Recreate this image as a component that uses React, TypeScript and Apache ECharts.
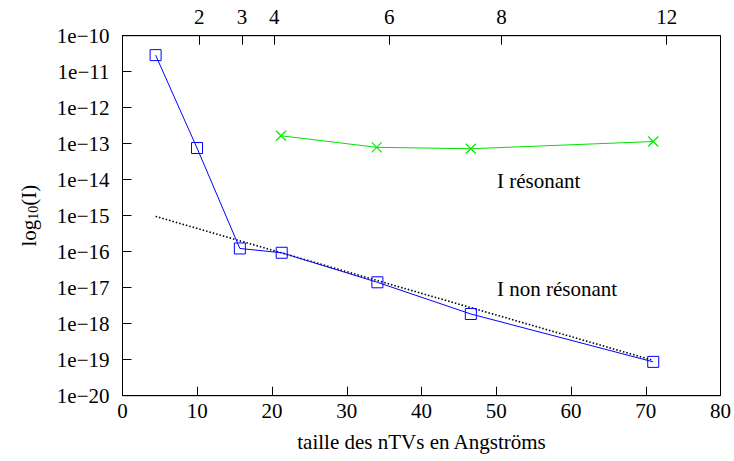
import React, { useEffect, useRef } from "react";
import * as echarts from "echarts";

// Data (x in Angströms, y as log10(I))
const nonResX = [4.43, 9.97, 15.7, 21.3, 34.1, 46.6, 71.0];
const nonResLogI = [-10.54, -13.12, -15.91, -16.03, -16.85, -17.73, -19.06];
const resX = [21.2, 34.0, 46.6, 71.0];
const resLogI = [-12.78, -13.1, -13.14, -12.94];
const fitX = [4.43, 71.0];
const fitLogI = [-15.02, -19.02];

// Top axis: number of rings n at corresponding sizes
const topTickPos = [10.27, 16.0, 20.3, 35.7, 50.7, 72.8];
const topTickLabels = ["2", "3", "4", "6", "8", "12"];

const FONT = "Liberation Serif";
const FS = 21;

export default function App() {
  const ref = useRef<HTMLDivElement>(null);
  useEffect(() => {
    if (!ref.current) return;
    const chart = echarts.init(ref.current, null, { renderer: "svg" });
    const crossPath = "path://M0,0L10,10M10,0L0,10";
    chart.setOption({
      animation: false,
      backgroundColor: "#fff",
      textStyle: { fontFamily: FONT, color: "#000" },
      grid: {
        left: 122.5,
        right: 11.5,
        top: 35.7,
        bottom: 65.3,
        show: true,
        borderColor: "#000",
        borderWidth: 1,
        backgroundColor: "transparent",
      },
      xAxis: [
        {
          type: "value",
          position: "bottom",
          min: 0,
          max: 80,
          interval: 10,
          name: "taille des nTVs en Angströms",
          nameLocation: "middle",
          nameGap: 36,
          nameTextStyle: { fontFamily: FONT, fontSize: FS, color: "#000" },
          axisLine: { show: true, lineStyle: { color: "#000", width: 1 } },
          axisTick: { show: true, inside: true, length: 9, lineStyle: { color: "#000" } },
          axisLabel: { fontFamily: FONT, fontSize: FS, color: "#000", margin: 5 },
          splitLine: { show: false },
        },
        {
          type: "value",
          position: "top",
          min: 0,
          max: 80,
          axisLine: { show: true, lineStyle: { color: "#000", width: 1 } },
          axisTick: {
            show: true,
            inside: true,
            length: 9,
            lineStyle: { color: "#000" },
            customValues: topTickPos,
          },
          axisLabel: {
            fontFamily: FONT,
            fontSize: FS,
            color: "#000",
            margin: 8,
            customValues: topTickPos,
            formatter: (v: number) => {
              const i = topTickPos.findIndex((p) => Math.abs(p - v) < 1e-6);
              return i >= 0 ? topTickLabels[i] : "";
            },
          },
          splitLine: { show: false },
        },
      ],
      yAxis: {
        type: "value",
        min: -20,
        max: -10,
        interval: 1,
        name: "{a|log}{b|10}{a|(I)}",
        nameLocation: "middle",
        nameRotate: 90,
        nameGap: 83,
        nameTextStyle: {
          rich: {
            a: { fontFamily: FONT, fontSize: FS, color: "#000", lineHeight: 22 },
            b: { fontFamily: FONT, fontSize: 14, color: "#000", lineHeight: 22, padding: [10, 0, 0, 0] },
          },
        },
        axisLine: { show: true, lineStyle: { color: "#000", width: 1 } },
        axisTick: { show: true, inside: true, length: 9, lineStyle: { color: "#000" } },
        axisLabel: {
          fontFamily: FONT,
          fontSize: FS,
          color: "#000",
          margin: 13,
          formatter: (v: number) => "1e" + (v < 0 ? "\u2212" : "") + Math.abs(Math.round(v)),
        },
        splitLine: { show: false },
      },
      series: [
        {
          type: "line",
          name: "I non résonant",
          data: nonResX.map((x, i) => [x, nonResLogI[i]]),
          symbol: "rect",
          symbolSize: 11,
          showAllSymbol: true,
          lineStyle: { color: "#0000ff", width: 1 },
          itemStyle: { color: "rgba(0,0,0,0)", borderColor: "#0000ff", borderWidth: 1 },
          z: 3,
        },
        {
          type: "line",
          name: "I résonant",
          data: resX.map((x, i) => [x, resLogI[i]]),
          symbol: crossPath,
          symbolSize: 10,
          lineStyle: { color: "#00e000", width: 1 },
          itemStyle: { color: "rgba(0,0,0,0)", borderColor: "#00ee00", borderWidth: 1.2 },
          z: 3,
        },
        {
          type: "line",
          name: "fit",
          data: fitX.map((x, i) => [x, fitLogI[i]]),
          symbol: "none",
          lineStyle: { color: "#000", width: 1.6, type: [1.5, 2] },
          z: 2,
        },
      ],
      graphic: [
        {
          type: "text",
          left: 497,
          top: 170,
          style: { text: "I résonant", font: `${FS}px "${FONT}"`, fill: "#000" },
        },
        {
          type: "text",
          left: 497,
          top: 278,
          style: { text: "I non résonant", font: `${FS}px "${FONT}"`, fill: "#000" },
        },
      ],
    });
    return () => chart.dispose();
  }, []);
  return (
    <div
      ref={ref}
      style={{ position: "fixed", left: 0, top: 0, width: 734, height: 461, background: "#fff" }}
    />
  );
}
